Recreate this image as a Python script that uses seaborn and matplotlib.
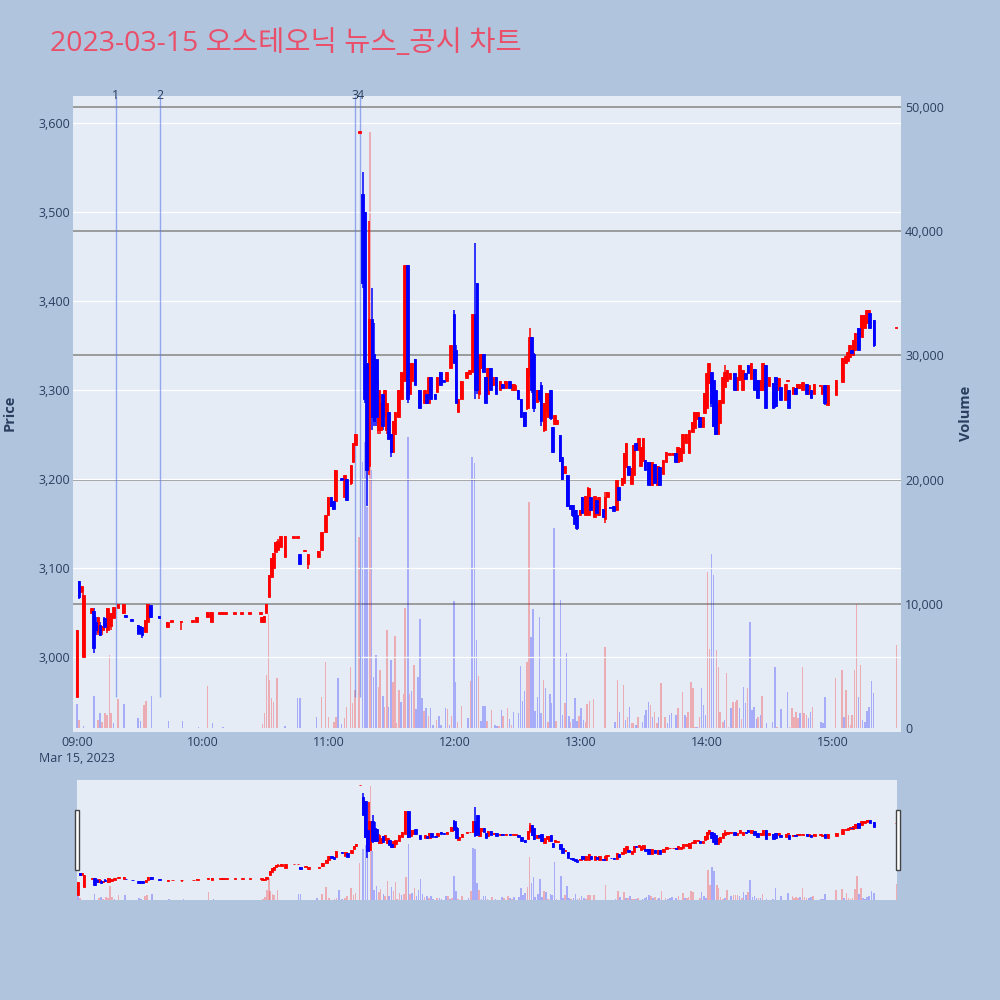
import matplotlib
matplotlib.use("Agg")
import matplotlib.pyplot as plt
import seaborn as sns
from matplotlib.patches import Rectangle
from matplotlib.ticker import FuncFormatter

# minutes after 09:00, open, high, low, close
candles_morning = [
    (0, 2955, 3030, 2955, 3030), (1, 3085, 3085, 3065, 3068), (2, 3073, 3080, 3073, 3080),
    (3, 3000, 3072, 3000, 3070), (7, 3050, 3055, 3050, 3055), (8, 3052, 3055, 3005, 3010),
    (9, 3040, 3045, 3025, 3030), (10, 3028, 3045, 3025, 3045), (11, 3036, 3040, 3024, 3025),
    (12, 3030, 3035, 3025, 3035), (13, 3044, 3045, 3030, 3034), (14.5, 3030, 3055, 3027, 3055),
    (16, 3035, 3050, 3030, 3050), (17.5, 3044, 3056, 3044, 3056), (19.5, 3055, 3060, 3055, 3060),
    (22, 3050, 3060, 3049, 3060), (23, 3047, 3047, 3045, 3045), (26, 3043, 3043, 3041, 3041),
    (29, 3036, 3036, 3025, 3027), (30, 3035, 3035, 3025, 3027), (31, 3034, 3034, 3022, 3025),
    (32.5, 3028, 3042, 3028, 3042), (33.5, 3040, 3060, 3040, 3060), (35, 3059, 3059, 3044, 3045),
    (39, 3046, 3046, 3044, 3044), (43, 3034, 3040, 3034, 3040), (45, 3040, 3041, 3040, 3041),
    (49.5, 3039, 3041, 3030, 3041), (55, 3040, 3041, 3040, 3041), (57, 3040, 3045, 3040, 3045),
    (62, 3045, 3051, 3045, 3051), (64, 3040, 3051, 3040, 3051), (68, 3049, 3050, 3049, 3050),
    (69, 3049, 3050, 3049, 3050), (70, 3049, 3050, 3049, 3050), (71, 3049, 3050, 3049, 3050),
    (75, 3049, 3050, 3049, 3050), (78.5, 3049, 3050, 3049, 3050), (82, 3049, 3050, 3049, 3050),
    (87.5, 3049, 3050, 3049, 3050), (88, 3040, 3045, 3040, 3045), (89, 3040, 3046, 3040, 3046),
    (90, 3050, 3060, 3050, 3060), (91.5, 3068, 3092, 3068, 3092), (92.5, 3090, 3111, 3090, 3111),
    (93.5, 3100, 3117, 3100, 3117), (94.5, 3118, 3129, 3118, 3129), (95.5, 3120, 3133, 3120, 3130),
    (97, 3124, 3136, 3124, 3136), (99, 3112, 3136, 3112, 3136),
]

candles_late_morning = [
    (103, 3134, 3135, 3134, 3135), (105, 3134, 3135, 3134, 3135), (106, 3116, 3116, 3104, 3105),
    (108.5, 3119, 3120, 3119, 3120), (110, 3105, 3116, 3099, 3116), (115, 3113, 3119, 3113, 3119),
    (116.5, 3120, 3140, 3119, 3140), (118.5, 3140, 3160, 3139, 3160), (119.5, 3160, 3180, 3160, 3180),
    (121, 3180, 3180, 3169, 3170), (122, 3175, 3175, 3165, 3166), (123, 3175, 3210, 3174, 3210),
    (126, 3201, 3201, 3199, 3199), (127.5, 3180, 3205, 3180, 3205), (128.5, 3200, 3200, 3175, 3176),
    (130.5, 3195, 3216, 3193, 3216), (131.5, 3219, 3240, 3219, 3240), (132.5, 3238, 3250, 3238, 3250),
]

candles_spike = [
    (134.5, 3589, 3590, 3589, 3590), (136, 3520, 3545, 3415, 3420), (137, 3500, 3500, 3285, 3290),
    (138, 3330, 3330, 3170, 3210), (139, 3215, 3490, 3205, 3380), (140.5, 3380, 3415, 3255, 3270),
    (141.5, 3340, 3375, 3260, 3265), (142.5, 3335, 3335, 3260, 3270), (143.5, 3255, 3310, 3250, 3300),
    (144.5, 3255, 3285, 3250, 3285), (145.5, 3295, 3295, 3255, 3260), (146.5, 3275, 3300, 3270, 3300),
    (147.5, 3255, 3285, 3250, 3285), (148.5, 3275, 3275, 3245, 3245), (149.5, 3250, 3250, 3225, 3230),
    (150.5, 3230, 3265, 3230, 3265), (151.5, 3250, 3275, 3250, 3275), (153, 3270, 3300, 3270, 3300),
    (154.5, 3290, 3320, 3290, 3320), (156, 3310, 3440, 3310, 3440), (157.5, 3440, 3440, 3285, 3290),
    (158.5, 3295, 3330, 3295, 3330), (159.5, 3310, 3330, 3310, 3330), (161, 3335, 3335, 3305, 3305),
    (163, 3300, 3300, 3280, 3280), (165.5, 3285, 3300, 3285, 3300), (166.5, 3295, 3295, 3285, 3285),
    (167.5, 3285, 3315, 3285, 3315), (168.5, 3315, 3315, 3290, 3290), (170.5, 3295, 3295, 3290, 3290),
    (171.5, 3298, 3315, 3298, 3315), (173, 3320, 3320, 3305, 3305), (174.5, 3311, 3311, 3309, 3309),
    (176, 3310, 3320, 3310, 3320), (178, 3325, 3350, 3325, 3350), (179.5, 3385, 3390, 3330, 3330),
    (180.5, 3345, 3350, 3285, 3285), (181.5, 3275, 3290, 3275, 3290), (183, 3290, 3310, 3290, 3310),
    (185.5, 3313, 3320, 3313, 3320), (187, 3318, 3322, 3318, 3322), (188.5, 3320, 3385, 3320, 3385),
    (189.5, 3385, 3465, 3290, 3300), (190.5, 3420, 3420, 3295, 3300), (191.5, 3295, 3340, 3290, 3340),
    (192.5, 3325, 3340, 3325, 3340), (193.5, 3340, 3340, 3320, 3320), (194.5, 3315, 3315, 3285, 3285),
    (195.5, 3295, 3325, 3295, 3325), (197, 3325, 3325, 3300, 3300), (198, 3305, 3315, 3305, 3315),
    (199.5, 3315, 3315, 3295, 3295),
]

candles_midday = [
    (201.5, 3300, 3310, 3300, 3310), (202.5, 3307, 3307, 3302, 3302), (204, 3302, 3310, 3302, 3310),
    (206, 3310, 3310, 3302, 3302), (207.5, 3300, 3307, 3300, 3307), (208.5, 3300, 3307, 3300, 3305),
    (210, 3300, 3300, 3290, 3290), (211.5, 3290, 3290, 3270, 3270), (213, 3275, 3275, 3258, 3260),
    (214.5, 3280, 3325, 3277, 3325), (215.5, 3325, 3370, 3315, 3360), (216.5, 3360, 3360, 3297, 3300),
    (217.5, 3340, 3342, 3275, 3280), (219, 3287, 3300, 3287, 3300), (220, 3300, 3300, 3287, 3290),
    (221, 3305, 3309, 3260, 3265), (222.5, 3255, 3285, 3253, 3285), (223.5, 3276, 3297, 3276, 3297),
    (224.5, 3270, 3297, 3270, 3295), (225.5, 3300, 3300, 3266, 3268), (226.5, 3258, 3258, 3229, 3230),
    (227.5, 3262, 3272, 3262, 3272), (228.5, 3262, 3266, 3262, 3266), (230, 3249, 3249, 3219, 3220),
    (231, 3225, 3225, 3199, 3200), (232, 3207, 3215, 3207, 3215), (233.5, 3205, 3205, 3169, 3170),
    (235, 3171, 3171, 3166, 3166), (236, 3171, 3171, 3157, 3160), (237, 3165, 3165, 3150, 3150),
    (238, 3160, 3165, 3143, 3145), (239.5, 3160, 3165, 3160, 3165), (240.5, 3180, 3180, 3162, 3162),
    (242, 3160, 3181, 3160, 3181), (243.5, 3160, 3191, 3160, 3190), (244.5, 3180, 3180, 3162, 3165),
    (246.5, 3157, 3181, 3157, 3181), (247.5, 3176, 3176, 3162, 3162), (248.5, 3160, 3180, 3158, 3180),
    (250.5, 3166, 3166, 3157, 3157), (251.5, 3155, 3185, 3151, 3180), (252.5, 3180, 3185, 3180, 3185),
    (254, 3169, 3169, 3167, 3167), (255.5, 3170, 3170, 3164, 3164), (257, 3165, 3199, 3165, 3199),
    (258, 3191, 3191, 3177, 3177), (259.5, 3193, 3201, 3193, 3201), (260.5, 3196, 3229, 3196, 3229),
    (261.5, 3213, 3240, 3213, 3240), (262.5, 3215, 3215, 3205, 3205), (264, 3194, 3212, 3194, 3212),
    (265, 3204, 3238, 3204, 3238), (266, 3240, 3240, 3233, 3233), (267.5, 3233, 3246, 3233, 3246),
    (268.5, 3215, 3236, 3215, 3236), (269.5, 3220, 3246, 3220, 3246), (270.5, 3221, 3221, 3210, 3210),
    (272, 3219, 3219, 3193, 3193), (273.5, 3193, 3219, 3193, 3219), (275, 3217, 3217, 3196, 3196),
    (276.5, 3193, 3215, 3193, 3215), (277.5, 3213, 3213, 3193, 3193), (279, 3206, 3221, 3206, 3221),
]

candles_afternoon = [
    (280.5, 3219, 3230, 3219, 3230), (282, 3227, 3229, 3227, 3229), (284, 3227, 3229, 3227, 3229),
    (285, 3229, 3229, 3219, 3219), (286, 3219, 3236, 3219, 3236), (287.5, 3220, 3235, 3220, 3235),
    (288.5, 3229, 3250, 3229, 3250), (290, 3241, 3250, 3241, 3250), (291.5, 3229, 3255, 3229, 3255),
    (293, 3253, 3264, 3253, 3264), (294, 3257, 3275, 3257, 3275), (295.5, 3267, 3275, 3267, 3275),
    (296.5, 3270, 3270, 3258, 3258), (298, 3258, 3270, 3258, 3270), (298.8, 3274, 3297, 3274, 3297),
    (299.8, 3280, 3319, 3280, 3319), (300.8, 3308, 3330, 3308, 3330), (302, 3320, 3320, 3281, 3285),
    (303, 3311, 3311, 3258, 3260), (304, 3300, 3300, 3249, 3250), (305, 3251, 3285, 3251, 3285),
    (306, 3263, 3289, 3263, 3289), (307.5, 3285, 3315, 3285, 3315), (308.5, 3303, 3328, 3303, 3320),
    (309.5, 3310, 3322, 3310, 3322), (311, 3312, 3319, 3312, 3319), (313, 3319, 3319, 3300, 3300),
    (314, 3300, 3315, 3300, 3315), (315.5, 3311, 3328, 3311, 3328), (317, 3300, 3322, 3300, 3322),
    (318.5, 3319, 3319, 3312, 3312), (319.5, 3328, 3328, 3319, 3319), (321, 3312, 3330, 3312, 3330),
    (322.5, 3323, 3323, 3300, 3300), (324, 3311, 3311, 3291, 3291), (325.5, 3300, 3311, 3300, 3311),
    (326.5, 3300, 3330, 3300, 3330), (328, 3328, 3328, 3280, 3280), (329.5, 3304, 3315, 3304, 3315),
    (331.5, 3308, 3308, 3280, 3280), (332.5, 3315, 3315, 3280, 3282), (334, 3300, 3313, 3300, 3313),
    (335, 3303, 3303, 3289, 3289), (337.5, 3289, 3307, 3289, 3307), (338.5, 3310, 3311, 3310, 3311),
    (339, 3300, 3300, 3280, 3280), (341, 3295, 3303, 3295, 3303), (342, 3302, 3302, 3295, 3295),
    (343, 3302, 3307, 3302, 3307), (344, 3302, 3307, 3302, 3307), (345.5, 3300, 3309, 3300, 3309),
    (347.5, 3307, 3307, 3295, 3295), (348.5, 3295, 3305, 3295, 3305), (349.5, 3300, 3300, 3291, 3291),
    (351, 3295, 3307, 3295, 3307), (354, 3304, 3305, 3304, 3305), (355, 3295, 3303, 3295, 3303),
    (356, 3306, 3306, 3283, 3285), (357.5, 3283, 3306, 3283, 3306), (361.5, 3294, 3311, 3294, 3311),
    (364.5, 3309, 3336, 3309, 3336), (366, 3330, 3338, 3330, 3338), (367, 3332, 3343, 3332, 3343),
    (368, 3337, 3350, 3337, 3350), (368.8, 3345, 3345, 3342, 3342), (369.5, 3339, 3356, 3339, 3356),
    (370.5, 3345, 3364, 3345, 3364), (372, 3370, 3370, 3345, 3345), (373.5, 3360, 3384, 3360, 3384),
    (375, 3370, 3384, 3370, 3384), (376, 3375, 3390, 3375, 3390), (376.8, 3385, 3390, 3385, 3390),
    (377.5, 3386, 3386, 3370, 3370), (379.5, 3378, 3378, 3348, 3350), (390, 3369, 3370, 3369, 3370),
]

# minutes after 09:00, volume, 1 = rising candle / 0 = falling candle
volume_morning = [
    (0, 1900, 0), (1, 640, 1), (3, 200, 0), (8, 2600, 0), (10, 650, 1), (11, 1200, 0), (12, 500, 1),
    (13.3, 1200, 1), (14.4, 1050, 1), (15.4, 5900, 1), (16.2, 1200, 1), (17.4, 400, 0), (19.4, 2300, 1),
    (22.5, 1900, 0), (29.1, 830, 0), (30.2, 600, 0), (31.9, 1850, 1), (33, 2200, 1), (35.4, 2600, 0),
    (43.5, 600, 0), (50.3, 600, 0), (57.8, 100, 0), (62.2, 3400, 1), (64.6, 400, 0), (69.6, 100, 0),
    (88.3, 300, 1), (89.2, 1200, 1), (90.2, 4300, 1), (91.1, 9200, 1), (91.7, 3900, 1), (92.7, 2400, 1),
    (93.5, 2100, 1), (95.2, 4000, 1), (99, 150, 0), (105.1, 2400, 0), (106.2, 2400, 0), (114.1, 900, 0),
    (116.5, 2500, 1), (118.4, 5300, 1), (119.7, 850, 1), (122.4, 500, 1), (123.3, 900, 1), (124.4, 4000, 0),
    (126, 300, 0), (127.3, 800, 1), (128.4, 1700, 1), (130.3, 4900, 1), (131.3, 2000, 1), (132.4, 3100, 1),
]

volume_spike = [
    (134.3, 15400, 1), (136, 21400, 0), (137.1, 23000, 0), (138, 17800, 0), (139.5, 48000, 1),
    (140.3, 20800, 0), (141.1, 4100, 0), (142.4, 5900, 0), (143.5, 3300, 1), (144.3, 4700, 1),
    (145.6, 2600, 0), (146.4, 1700, 1), (147.5, 7900, 1), (148.4, 1700, 0), (149.4, 5500, 0),
    (150.4, 3700, 1), (151.4, 7400, 1), (152.2, 400, 1), (153.3, 3100, 1), (154.3, 2100, 0),
    (155.4, 2700, 1), (156.3, 9700, 1), (157.5, 23400, 0), (158.3, 2700, 1), (159.2, 3000, 0),
    (160.5, 5100, 1), (161.4, 1550, 0), (162.4, 4100, 0), (163.3, 8800, 0), (164.3, 2400, 0),
    (165.2, 1400, 1), (166.3, 1650, 0), (167.3, 1000, 1), (168.4, 1650, 0), (169.4, 250, 0),
    (171.3, 650, 1), (172.3, 1000, 0), (173.4, 250, 0), (175.4, 1600, 0), (176.5, 1500, 1),
    (177.4, 250, 0), (178.4, 950, 1), (179.4, 10200, 0), (180.3, 3700, 0), (181.3, 500, 1),
    (183.2, 1750, 1), (186.2, 800, 0), (187.3, 3800, 1), (188.2, 21800, 0), (189.3, 21300, 0),
    (190.3, 7100, 0), (191.2, 4200, 1), (192.3, 600, 0), (193.4, 1750, 0), (194.3, 1750, 0),
    (195.2, 550, 1), (197.3, 1450, 1), (199, 250, 0),
]

volume_midday = [
    (200, 200, 0), (201, 200, 1), (202.1, 1450, 0), (203, 1000, 1), (205.1, 1650, 1), (206, 700, 0),
    (207, 250, 1), (207.9, 1250, 0), (210.2, 1200, 0), (211.3, 5000, 0), (212.2, 2200, 0),
    (213.2, 2950, 0), (214.3, 5300, 1), (215.2, 18200, 1), (216.2, 7300, 0), (217.1, 9600, 0),
    (218, 1350, 0), (219.2, 2500, 0), (220.2, 8900, 0), (221.1, 1200, 0), (222.1, 3900, 1),
    (223.2, 3200, 0), (224.2, 450, 1), (225.2, 2700, 0), (226, 2000, 0), (227.1, 16100, 0),
    (228.2, 550, 1), (230.3, 10300, 0), (231.2, 1050, 0), (232.3, 2000, 1), (233.2, 6000, 0),
    (234.2, 1000, 0), (235.1, 450, 1), (236.2, 700, 0), (237.1, 2400, 0), (238.1, 550, 0),
    (239, 950, 1), (240.1, 1600, 0), (241.2, 650, 0), (242.1, 450, 1), (243, 1950, 1), (244, 2200, 1),
    (245.9, 2300, 1), (251.4, 6500, 1), (256.2, 500, 0), (257.3, 3900, 1), (258.3, 1300, 0),
    (260.2, 3500, 1), (261.3, 650, 0), (262.2, 900, 1), (263.2, 1700, 0), (264.2, 400, 1),
    (265.1, 400, 1), (266.1, 250, 0), (267.1, 900, 1), (269.2, 500, 0), (270.2, 1050, 0),
    (271.1, 1450, 0), (272.2, 2100, 0), (273.2, 1850, 1), (274.1, 900, 0), (275.1, 1300, 1),
    (276.2, 400, 1), (277, 900, 0), (278.1, 3600, 1),
]

volume_afternoon = [
    (280, 900, 1), (281.2, 400, 0), (282.1, 1050, 0), (283.2, 1200, 0), (285.2, 1050, 0),
    (286.3, 1600, 1), (288.4, 2900, 1), (289.5, 1050, 0), (290.3, 900, 1), (291.1, 1300, 1),
    (292.3, 3700, 1), (293.3, 3200, 1), (294.4, 100, 1), (295.2, 100, 0), (296.5, 900, 1),
    (297.3, 3200, 0), (298.4, 1850, 0), (299.4, 1050, 0), (300.3, 12600, 1), (301.3, 6400, 1),
    (302.2, 14000, 0), (303.2, 12300, 0), (304.5, 6300, 1), (305.4, 4900, 1), (306.3, 1300, 1),
    (307.5, 500, 1), (308.4, 650, 0), (309.4, 4400, 1), (310.3, 100, 1), (311.4, 1600, 0),
    (312.4, 2100, 1), (313.5, 2100, 1), (314.4, 2250, 1), (315.4, 1600, 0), (316.4, 750, 1),
    (317.3, 3300, 0), (318.4, 2000, 0), (319.4, 3200, 1), (320.4, 8500, 0), (321.5, 1450, 0),
    (322.4, 1700, 0), (323.5, 750, 0), (324.4, 900, 1), (325.4, 1050, 0), (326.3, 2600, 1),
    (328.3, 400, 0), (331.3, 500, 0), (332.5, 4900, 0), (333.3, 100, 1), (335.2, 1500, 0),
    (338.4, 2900, 0), (339.4, 100, 1), (340.5, 1600, 1), (341.4, 900, 1), (342.4, 1300, 1),
    (343.3, 800, 1), (344.3, 1200, 0), (345.4, 4900, 1), (346.3, 1200, 1), (347.3, 1050, 1),
    (348.4, 800, 0), (349.4, 1300, 0), (350.3, 1700, 1), (354.3, 500, 0), (355.2, 400, 0),
    (356.2, 2500, 0), (361.3, 4000, 1), (364.3, 4700, 1), (365.2, 900, 0), (366.3, 3100, 1),
    (367.3, 1050, 1), (368.3, 250, 1), (369.2, 1050, 1), (370.3, 4700, 1), (371.3, 10000, 1),
    (372.2, 2500, 0), (373.2, 5100, 1), (374.1, 650, 0), (375.2, 500, 0), (376.2, 1400, 0),
    (377.1, 1700, 0), (378.3, 3800, 0), (379.4, 2800, 0), (390.2, 6700, 1),
]

news_minutes = [18.4, 39.7, 132.4, 134.8]
news_labels = ["1", "2", "3", "4"]

hour_ticks = [0, 60, 120, 180, 240, 300, 360]
hour_labels = ["09:00\nMar 15, 2023", "10:00", "11:00", "12:00", "13:00", "14:00", "15:00"]
price_ticks = [3000, 3100, 3200, 3300, 3400, 3500, 3600]
volume_ticks = [0, 10000, 20000, 30000, 40000, 50000]

title = "2023-03-15 오스테오닉 뉴스_공시 차트"

candles = candles_morning + candles_late_morning + candles_spike + candles_midday + candles_afternoon
volumes = volume_morning + volume_spike + volume_midday + volume_afternoon

RED, BLUE = "#FF0000", "#0000FF"
PAPER, PLOT_BG, TXT = "#B0C4DE", "#E5ECF6", "#2A3F5F"

sns.set_theme(style="white")
plt.rcParams["font.family"] = ["Open Sans", "Noto Sans CJK KR", "DejaVu Sans"]


def draw_candles(ax, body_w=1.3):
    for up, col in ((True, RED), (False, BLUE)):
        sel = [cd for cd in candles if (cd[4] > cd[1]) == up]
        t = [cd[0] for cd in sel]
        ax.vlines(t, [cd[3] for cd in sel], [cd[2] for cd in sel], color=col, lw=1.1, zorder=4)
        ax.bar(t, [max(abs(cd[4] - cd[1]), 1.5) for cd in sel], bottom=[min(cd[1], cd[4]) for cd in sel],
               width=body_w, color=col, edgecolor=col, linewidth=0.6, zorder=5)


def draw_volume(ax):
    for up, col in ((1, RED), (0, BLUE)):
        sel = [v for v in volumes if v[2] == up]
        ax.bar([v[0] for v in sel], [v[1] for v in sel], width=0.75, color=col, alpha=0.27,
               linewidth=0, zorder=2)


fig = plt.figure(figsize=(10, 10), dpi=100)
fig.patch.set_facecolor(PAPER)

PRICE_LIM = (2916, 3630)
VOL_LIM = (-320, 50880)

# main chart
ax = fig.add_axes([0.073, 0.268, 0.828, 0.636])
axv = ax.twinx()
ax.set_zorder(axv.get_zorder() + 1)
ax.patch.set_visible(False)
axv.patch.set_visible(True)
axv.patch.set_facecolor(PLOT_BG)

draw_volume(axv)
axv.set_ylim(*VOL_LIM)
axv.set_yticks(volume_ticks)
axv.yaxis.set_major_formatter(FuncFormatter(lambda v, p: f"{int(v):,}"))
for v in volume_ticks[1:]:
    axv.axhline(v, color="#8E8E8E", lw=1.2, zorder=1)

for p in price_ticks:
    ax.axhline(p, color="white", lw=0.9, zorder=1)
low_of_day = min(cd[3] for cd in candles)
ax.vlines(news_minutes, low_of_day, PRICE_LIM[1], color="#5A78E6", alpha=0.6, lw=1.0, zorder=3)
for m, lab in zip(news_minutes, news_labels):
    ax.text(m, PRICE_LIM[1], lab, ha="center", va="center", fontsize=9, color=TXT, zorder=6)
draw_candles(ax)

ax.set_xlim(-1.9, 392.4)
ax.set_ylim(*PRICE_LIM)
ax.set_yticks(price_ticks)
ax.yaxis.set_major_formatter(FuncFormatter(lambda v, p: f"{int(v):,}"))
ax.set_xticks(hour_ticks)
ax.set_xticklabels(hour_labels, linespacing=1.25)
for a in (ax, axv):
    a.tick_params(length=0, labelsize=9, labelcolor=TXT)
    for s in a.spines.values():
        s.set_visible(False)
    a.grid(False)
ax.tick_params(axis="y", pad=2)
ax.tick_params(axis="x", pad=3)
axv.tick_params(axis="y", pad=3)

fig.text(0.010, 0.587, "Price", rotation=90, ha="center", va="center", fontsize=10.5,
         fontweight="bold", color=TXT)
fig.text(0.966, 0.587, "Volume", rotation=90, ha="center", va="center", fontsize=10.5,
         fontweight="bold", color=TXT)
fig.text(0.050, 0.956, title, ha="left", va="center", fontsize=20.5, color="#EA4F6A")

# range slider
sl = fig.add_axes([0.077, 0.100, 0.820, 0.120])
slv = sl.twinx()
sl.set_zorder(slv.get_zorder() + 1)
sl.patch.set_visible(False)
slv.patch.set_visible(True)
slv.patch.set_facecolor(PLOT_BG)
draw_volume(slv)
draw_candles(sl, body_w=1.2)
slv.set_ylim(0, 50500)
sl.set_ylim(2926, 3620)
sl.set_xlim(-0.4, 390.4)
for a in (sl, slv):
    a.set_xticks([])
    a.set_yticks([])
    a.grid(False)
    for s in a.spines.values():
        s.set_visible(False)

for x0 in (0.0745, 0.8955):
    fig.patches.append(Rectangle((x0, 0.130), 0.004, 0.060, transform=fig.transFigure,
                                 facecolor="white", edgecolor="#444444", lw=1.0, zorder=10))

fig.savefig("out.png", dpi=100, facecolor=PAPER)
